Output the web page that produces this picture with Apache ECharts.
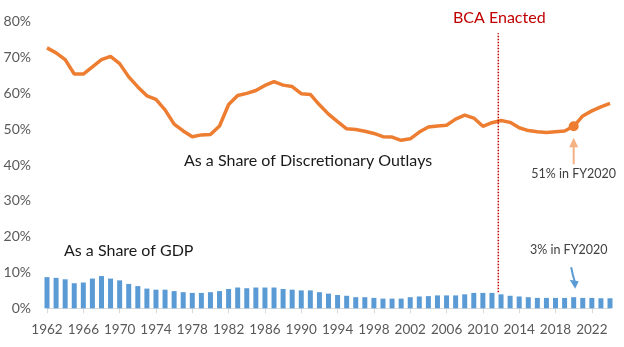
<!DOCTYPE html>
<html>
<head>
<meta charset="utf-8">
<script src="https://cdn.jsdelivr.net/npm/echarts@6/dist/echarts.min.js"></script>
<style>
html,body{margin:0;padding:0;background:#fff;}
#chart{width:624px;height:347px;}
</style>
</head>
<body>
<div id="chart"></div>
<script>
const years = ['1962','1963','1964','1965','1966','1967','1968','1969','1970','1971',
'1972','1973','1974','1975','1976','1977','1978','1979','1980','1981',
'1982','1983','1984','1985','1986','1987','1988','1989','1990','1991',
'1992','1993','1994','1995','1996','1997','1998','1999','2000','2001',
'2002','2003','2004','2005','2006','2007','2008','2009','2010','2011',
'2012','2013','2014','2015','2016','2017','2018','2019','2020','2021',
'2022','2023','2024'];

const outlayShare = [72.7,71.3,69.4,65.4,65.4,67.4,69.4,70.3,68.3,64.6,
61.8,59.3,58.3,55.4,51.4,49.5,47.9,48.4,48.5,50.9,
56.9,59.4,60.0,60.8,62.2,63.3,62.3,61.9,59.9,59.7,
56.8,54.2,52.1,50.1,49.9,49.4,48.8,47.9,47.8,46.9,
47.3,49.2,50.6,50.9,51.1,52.8,53.9,53.1,50.8,51.8,
52.4,51.9,50.4,49.6,49.3,49.1,49.3,49.5,50.8,53.7,
55.1,56.2,57.2];

const gdpShare = [8.7,8.5,8.1,7.0,7.2,8.3,9.0,8.3,7.8,6.8,
6.2,5.5,5.2,5.2,4.8,4.5,4.3,4.3,4.5,4.8,
5.4,5.8,5.6,5.8,5.8,5.8,5.4,5.2,5.0,5.0,
4.5,4.1,3.7,3.5,3.1,3.1,2.9,2.7,2.7,2.7,
3.1,3.3,3.4,3.6,3.6,3.6,3.9,4.3,4.3,4.3,
3.9,3.5,3.3,3.1,2.9,2.9,2.9,2.9,3.1,2.9,
2.9,2.8,2.8];

const yTicks = [0,10,20,30,40,50,60,70,80];
const bcaYear = 2011.7;
const bcaLine = [[bcaYear, 4.5],[bcaYear, 76.8]];
const highlightYear = '2020';
const highlightIdx = years.indexOf(highlightYear);

const chart = echarts.init(document.getElementById('chart'), null, {renderer:'canvas'});
const FONT = 'Lato';
chart.setOption({
  animation:false,
  grid:{left:47, right:14, top:21.7, bottom:38.7, containLabel:false},
  xAxis:[{
    type:'category', data:years, boundaryGap:false,
    axisLine:{lineStyle:{color:'#D9D9D9', width:1}},
    axisTick:{show:true, interval:3, length:5, lineStyle:{color:'#D9D9D9'}},
    axisLabel:{interval:3, color:'#595959', fontFamily:FONT, fontSize:13.5, margin:14}
  },{
    type:'value', min:1962, max:2024, show:false
  }],
  yAxis:[{
    type:'value', min:yTicks[0], max:yTicks[yTicks.length-1], interval:10,
    axisLine:{show:false}, axisTick:{show:false}, splitLine:{show:false},
    axisLabel:{formatter:'{value}%', color:'#595959', fontFamily:FONT, fontSize:14, margin:16}
  }],
  series:[
    {type:'bar', data:gdpShare, barWidth:5, clip:false,
     itemStyle:{color:'#5B9BD5'}, z:2},
    {type:'line', data:outlayShare, symbol:'none', smooth:false,
     lineStyle:{color:'#ED7D31', width:3.5}, z:3,
     markPoint:{symbol:'circle', symbolSize:10, itemStyle:{color:'#ED7D31'}, label:{show:false},
       data:[{coord:[highlightYear, outlayShare[highlightIdx]]}]}},
    {type:'line', xAxisIndex:1, yAxisIndex:0, data:bcaLine, symbol:'none',
     lineStyle:{color:'#C00000', width:1.5, type:[1.5,1.5]}, z:4, silent:true}
  ]
});

const mk = chart.convertToPixel({xAxisIndex:0, yAxisIndex:0}, [highlightYear, outlayShare[highlightIdx]]);
const bk = chart.convertToPixel({xAxisIndex:0, yAxisIndex:0}, [highlightYear, gdpShare[highlightIdx]]);
const bcaTop = chart.convertToPixel({xAxisIndex:1, yAxisIndex:0}, bcaLine[1]);
const ox = mk[0];
const orange = '#F4B183';
const blue = '#5B9BD5';

chart.setOption({
  graphic:[
    {type:'text', left:184, top:153, style:{text:'As a Share of Discretionary Outlays', fill:'#1a1a1a', font:'16px Lato'}},
    {type:'text', left:64, top:243, style:{text:'As a Share of GDP', fill:'#1a1a1a', font:'16px Lato'}},
    {type:'text', x:bcaTop[0]+1, y:18, style:{text:'BCA Enacted', fill:'#C00000', font:'16px Lato', align:'center', verticalAlign:'middle'}},
    {type:'text', x:ox, y:mk[1]+48, style:{text:'51% in FY2020', fill:'#404040', font:'12.5px Lato', align:'center', verticalAlign:'middle'}},
    {type:'line', shape:{x1:ox, y1:mk[1]+38, x2:ox, y2:mk[1]+19}, style:{stroke:orange, lineWidth:2}},
    {type:'polygon', shape:{points:[[ox-4.5, mk[1]+21],[ox+4.5, mk[1]+21],[ox, mk[1]+11.5]]}, style:{fill:orange}},
    {type:'text', x:ox-5, y:bk[1]-47, style:{text:'3% in FY2020', fill:'#404040', font:'12.5px Lato', align:'center', verticalAlign:'middle'}},
    {type:'bezierCurve', shape:{x1:ox-2.5, y1:bk[1]-30, cpx1:ox-1, cpy1:bk[1]-22, x2:ox+1, y2:bk[1]-16}, style:{stroke:blue, lineWidth:2, fill:null}},
    {type:'polygon', shape:{points:[[ox-4, bk[1]-17.5],[ox+5, bk[1]-16],[ox+1.5, bk[1]-8.5]]}, style:{fill:blue}}
  ]
});
</script>
</body>
</html>
